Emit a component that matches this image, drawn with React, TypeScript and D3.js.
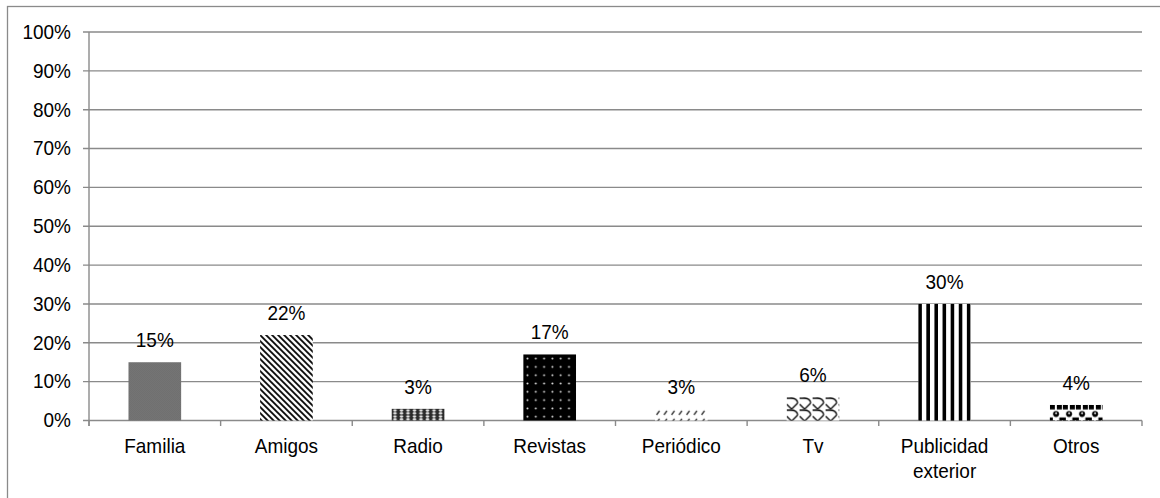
import React from "react";
import * as d3 from "d3";

// Fuentes por las que el público conoció la marca
const categories = [
  "Familia",
  "Amigos",
  "Radio",
  "Revistas",
  "Periódico",
  "Tv",
  "Publicidad exterior",
  "Otros",
];
const values = [0.15, 0.22, 0.03, 0.17, 0.03, 0.06, 0.3, 0.04];
const yTickValues = [0, 0.1, 0.2, 0.3, 0.4, 0.5, 0.6, 0.7, 0.8, 0.9, 1];

const W = 1160;
const H = 498;
const FONT = "'Liberation Sans', Arial, Helvetica, sans-serif";
const FONT_SIZE = 20;
const SQUEEZE = 0.95;
const GRID = "#8a8a8a";

const pct = d3.format(".0%");

// Slightly condensed text placed at (x, y)
function Label({
  x,
  y,
  anchor,
  children,
}: {
  x: number;
  y: number;
  anchor: "start" | "middle" | "end";
  children: React.ReactNode;
}) {
  return (
    <text
      transform={`translate(${x},${y}) scale(${SQUEEZE},1)`}
      textAnchor={anchor}
      fontFamily={FONT}
      fontSize={FONT_SIZE}
      fill="#000"
    >
      {children}
    </text>
  );
}

// Pattern tiles, one per category, anchored at each bar's corner
function tile(i: number, id: string, x0: number, y0: number) {
  const common = { id, patternUnits: "userSpaceOnUse" as const, x: x0, y: y0 };
  switch (i) {
    case 0:
      return (
        <pattern key={id} {...common} width={2} height={2}>
          <rect width={2} height={2} fill="#e4e4e4" />
          <rect x={0} y={0} width={1} height={1} fill="#000" />
          <rect x={1} y={1} width={1} height={1} fill="#000" />
        </pattern>
      );
    case 1:
      return (
        <pattern key={id} {...common} width={6} height={6}>
          <rect width={6} height={6} fill="#fff" />
          <path d="M-1,-1 L7,7 M-1,5 L1,7 M5,-1 L7,1" stroke="#000" strokeWidth={1.8} />
        </pattern>
      );
    case 2:
      return (
        <pattern key={id} {...common} width={6.5} height={6}>
          <rect width={6.5} height={6} fill="#2a2a2a" />
          <ellipse cx={3.25} cy={1.6} rx={1.9} ry={1.1} fill="#eee" />
          <ellipse cx={3.25} cy={4.4} rx={1.9} ry={1.1} fill="#eee" />
        </pattern>
      );
    case 3:
      return (
        <pattern key={id} {...common} width={8.3} height={8.3}>
          <rect width={8.3} height={8.3} fill="#000" />
          <circle cx={4.15} cy={4.15} r={1} fill="#e0e0e0" />
        </pattern>
      );
    case 4:
      return (
        <pattern key={id} {...common} width={7.5} height={8}>
          <rect width={7.5} height={8} fill="#fff" />
          <path d="M1.5,6 L4.5,2" stroke="#333" strokeWidth={1.3} />
        </pattern>
      );
    case 5:
      return (
        <pattern key={id} {...common} width={13} height={12}>
          <rect width={13} height={12} fill="#fff" />
          <path
            d="M0,1 L4,1 Q11,1 11,6 M11,6 L5,12 M0,7 L5,12"
            stroke="#000"
            strokeWidth={1.3}
            fill="none"
          />
        </pattern>
      );
    case 6:
      return (
        <pattern key={id} {...common} width={8.1} height={10}>
          <rect width={8.1} height={10} fill="#fff" />
          <rect x={0} width={3.6} height={10} fill="#000" />
        </pattern>
      );
    default:
      return (
        <pattern key={id} {...common} width={13} height={15.5}>
          <rect width={13} height={15.5} fill="#fff" />
          <rect x={0} y={0} width={5} height={4.5} fill="#000" />
          <rect x={7} y={0} width={5} height={4.5} fill="#000" />
          <circle cx={6.2} cy={9} r={3} fill="#000" />
          <circle cx={6.2} cy={8.2} r={1} fill="#fff" />
          <rect x={0} y={12.5} width={3} height={3} fill="#000" />
          <rect x={9.5} y={12.5} width={3.5} height={3} fill="#000" />
        </pattern>
      );
  }
}

export default function App() {
  const x = d3
    .scaleBand<string>()
    .domain(categories)
    .range([89, 1142])
    .paddingInner(0.6)
    .paddingOuter(0.3);
  const y = d3.scaleLinear().domain([0, 1]).range([420.5, 32]);

  const step = x.step();
  const bw = x.bandwidth();
  const center = (c: string) => (x(c) as number) + bw / 2;
  const boundaries = [center(categories[0]) - step / 2, ...categories.map((c) => center(c) + step / 2)];

  return (
    <div style={{ position: "fixed", left: 0, top: 0 }}>
      <svg width={W} height={H} style={{ display: "block", background: "#fff" }}>
        <defs>
          {categories.map((c, i) => tile(i, `pat-${i}`, x(c) as number, y(values[i])))}
        </defs>

        {/* outer chart border */}
        <rect x={7.5} y={6.5} width={W + 20} height={H + 20} fill="#fff" stroke={GRID} strokeWidth={1.3} />

        {/* horizontal gridlines */}
        {yTickValues.map((t) => (
          <line key={`g${t}`} x1={83} x2={1142} y1={y(t)} y2={y(t)} stroke={GRID} strokeWidth={1.4} />
        ))}

        {/* vertical axis */}
        <line x1={89} x2={89} y1={y(1)} y2={426} stroke={GRID} strokeWidth={1.4} />

        {/* category boundary ticks */}
        {boundaries.map((b, i) => (
          <line key={`t${i}`} x1={b} x2={b} y1={y(0)} y2={426} stroke={GRID} strokeWidth={1.4} />
        ))}

        {/* y tick labels */}
        {yTickValues.map((t) => (
          <Label key={`yl${t}`} x={71} y={y(t) + 6.8} anchor="end">
            {pct(t)}
          </Label>
        ))}

        {/* bars */}
        {categories.map((c, i) => (
          <rect
            key={`b${c}`}
            x={x(c)}
            y={y(values[i])}
            width={bw}
            height={y(0) - y(values[i])}
            fill={`url(#pat-${i})`}
          />
        ))}

        {/* value labels */}
        {categories.map((c, i) => (
          <Label key={`v${c}`} x={center(c)} y={y(values[i]) - 15} anchor="middle">
            {pct(values[i])}
          </Label>
        ))}

        {/* category labels */}
        {categories.map((c) =>
          c.split(" ").map((w, j) => (
            <Label key={`c${c}${j}`} x={center(c)} y={452.5 + j * 25} anchor="middle">
              {w}
            </Label>
          ))
        )}
      </svg>
    </div>
  );
}
